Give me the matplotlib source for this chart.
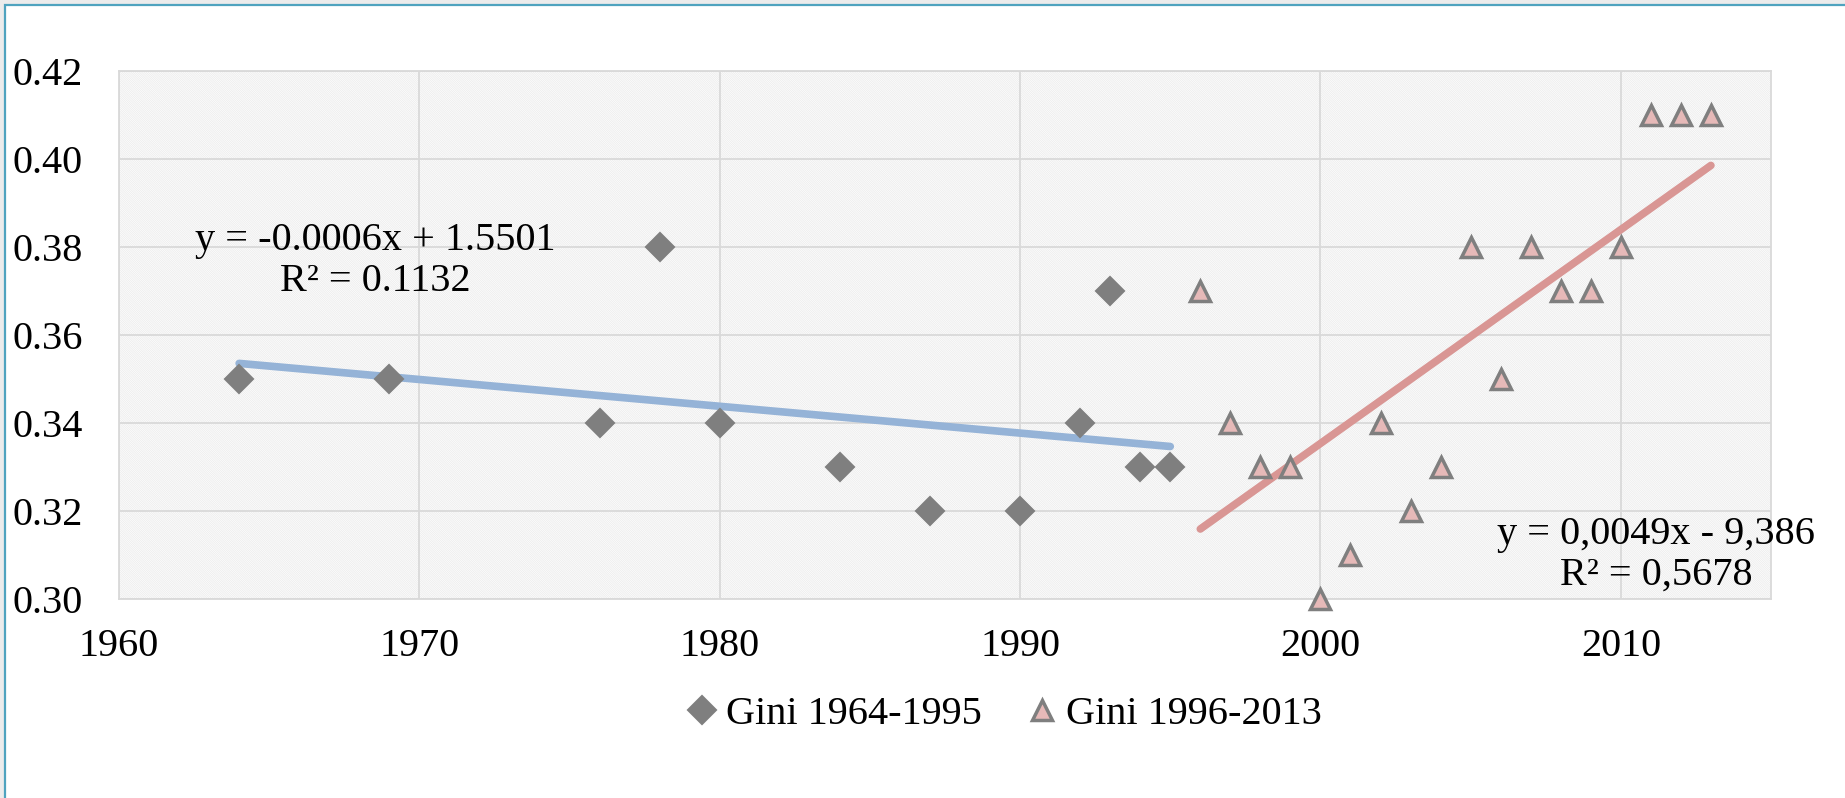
import numpy as np
import matplotlib
matplotlib.use('Agg')
import matplotlib.pyplot as plt
from matplotlib.patches import Rectangle

# Datos
anios_1 = [1964, 1969, 1976, 1978, 1980, 1984, 1987, 1990, 1992, 1993, 1994, 1995]
gini_1 = [0.35, 0.35, 0.34, 0.38, 0.34, 0.33, 0.32, 0.32, 0.34, 0.37, 0.33, 0.33]

anios_2 = [1996, 1997, 1998, 1999, 2000, 2001, 2002, 2003, 2004, 2005, 2006,
           2007, 2008, 2009, 2010, 2011, 2012, 2013]
gini_2 = [0.37, 0.34, 0.33, 0.33, 0.30, 0.31, 0.34, 0.32, 0.33, 0.38, 0.35,
          0.38, 0.37, 0.37, 0.38, 0.41, 0.41, 0.41]

etiqueta_1 = 'Gini 1964-1995'
etiqueta_2 = 'Gini 1996-2013'
ecuacion_1 = 'y = -0.0006x + 1.5501\nR² = 0.1132'
ecuacion_2 = 'y = 0,0049x - 9,386\nR² = 0,5678'

plt.rcParams['font.family'] = ['Liberation Serif', 'DejaVu Serif']
plt.rcParams['hatch.linewidth'] = 0.4

W, H = 1845, 798
fig = plt.figure(figsize=(W / 100, H / 100), dpi=100, facecolor='#ececec')

# Marco de la diapositiva
fig.patches.append(Rectangle((5 / W, -0.1), 1.2, 1 - 5 / H + 0.1, transform=fig.transFigure,
                             facecolor='white', edgecolor='#4fa3bf', linewidth=1.6, zorder=-5))

ax = fig.add_axes([119 / W, 1 - 599 / H, (1771 - 119) / W, (599 - 71) / H])
ax.set_facecolor('white')
ax.add_patch(Rectangle((0, 0), 1, 1, transform=ax.transAxes, facecolor='none',
                       edgecolor='#e6e6e6', hatch='\\' * 18, linewidth=0, zorder=0))

ax.set_xlim(1960, 2015)
ax.set_ylim(0.30, 0.42)
ax.set_xticks(np.arange(1960, 2011, 10))
ax.set_yticks(np.arange(0.30, 0.421, 0.02))
ax.yaxis.set_major_formatter(matplotlib.ticker.FormatStrFormatter('%.2f'))
ax.grid(True, color='#d9d9d9', linewidth=1.3, zorder=1)
ax.set_axisbelow(True)
for s in ax.spines.values():
    s.set_color('#d9d9d9')
    s.set_linewidth(1.3)
ax.tick_params(length=0, labelsize=29, colors='black')
ax.tick_params(axis='y', pad=26)
ax.tick_params(axis='x', pad=21)

# Lineas de tendencia (ajuste lineal)
p1 = np.polyfit(anios_1, gini_1, 1)
x1 = np.array([min(anios_1), max(anios_1)])
ax.plot(x1, np.polyval(p1, x1), color='#95b3d7', linewidth=5.5, solid_capstyle='round', zorder=3)
p2 = np.polyfit(anios_2, gini_2, 1)
x2 = np.array([min(anios_2), max(anios_2)])
ax.plot(x2, np.polyval(p2, x2), color='#d99694', linewidth=5.5, solid_capstyle='round', zorder=3)

ax.plot(anios_1, gini_1, linestyle='none', marker='D', markersize=14.5,
        markerfacecolor='#7f7f7f', markeredgecolor='#7f7f7f', markeredgewidth=1.5,
        label=etiqueta_1, zorder=4, clip_on=False)
ax.plot(anios_2, gini_2, linestyle='none', marker='^', markersize=14,
        markerfacecolor='#e6b9b8', markeredgecolor='#7f7f7f', markeredgewidth=2.5,
        label=etiqueta_2, zorder=4, clip_on=False)

fig.text(375 / W, 1 - 261 / H, ecuacion_1, ha='center', va='center', fontsize=29,
         linespacing=1.15)
fig.text(1656 / W, 1 - 555 / H, ecuacion_2, ha='center', va='center', fontsize=29,
         linespacing=1.15)

fig.legend(loc='center', bbox_to_anchor=(1000 / W, 1 - 714 / H), ncol=2, frameon=False,
           fontsize=29, handletextpad=0.0, columnspacing=0.9, handlelength=1.2)

fig.savefig('out.png', dpi=100, facecolor=fig.get_facecolor())
